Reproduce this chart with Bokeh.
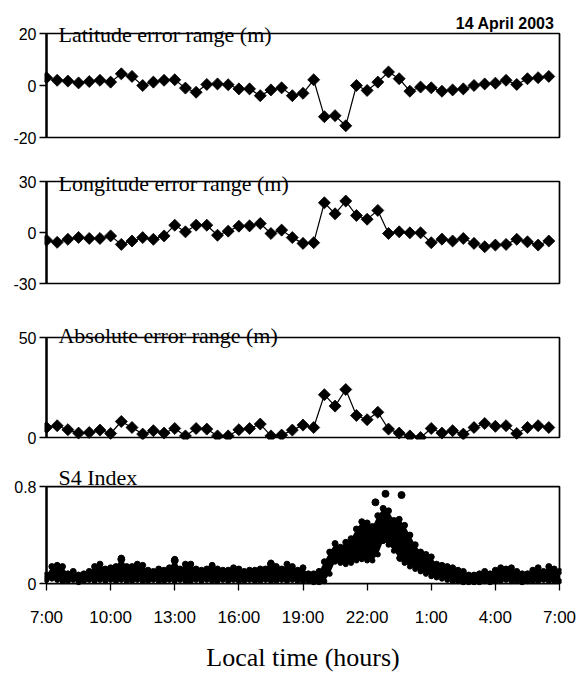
from bokeh.plotting import figure
from bokeh.models import Range1d, FixedTicker, Label
from bokeh.layouts import column
from bokeh.embed import file_html
from bokeh.resources import INLINE

# ---------------- data ----------------
# hours after 07:00 local time (half-hourly fixes)
sample_hours = [0.0, 0.5, 1.0, 1.5, 2.0, 2.5, 3.0, 3.5, 4.0, 4.5, 5.0, 5.5,
                6.0, 6.5, 7.0, 7.5, 8.0, 8.5, 9.0, 9.5, 10.0, 10.5, 11.0, 11.5,
                12.0, 12.5, 13.0, 13.5, 14.0, 14.5, 15.0, 15.5, 16.0, 16.5, 17.0, 17.5,
                18.0, 18.5, 19.0, 19.5, 20.0, 20.5, 21.0, 21.5, 22.0, 22.5, 23.0, 23.5]

latitude_err = [3, 2, 1.7, 1, 1.5, 2, 1.3, 4.5, 3.5, 0, 1.3, 2,
                2.2, -1, -2.6, 0.4, 0.6, 0.3, -1.3, -1.3, -3.9, -1.7, -0.9, -3.9,
                -3, 2.2, -12, -11.6, -15.5, 0, -1.9, 1.3, 5.2, 2.6, -2.2, -0.6,
                -0.9, -2.2, -1.7, -1.3, 0, 0.6, 0.9, 2, 0.4, 2.6, 3, 3.5]

longitude_err = [-4.5, -5.8, -4, -2.9, -3.5, -3.5, -2, -7, -5, -3, -4, -2,
                 4.3, 0.4, 4.3, 4.3, -1.6, 0.8, 3.7, 3.9, 5.3, -0.6, 1.4, -3,
                 -6.4, -6, 17.5, 11, 18.5, 10, 7.8, 13, -0.6, 0.4, -0.2, -0.2,
                 -6, -3.9, -5, -3.5, -6.4, -8.4, -7.4, -7, -4, -5.5, -7.4, -5]

absolute_err = [5, 5.9, 3.9, 2.2, 2.5, 3.7, 2, 8, 5, 1.7, 3.4, 2.2,
                4.5, 0.8, 4.5, 4.2, 0.8, 0.8, 3.9, 4.5, 6.7, 0.8, 1.2, 3.7,
                6.2, 5, 21.4, 15.7, 24, 11, 8.9, 12.6, 4.2, 2.2, 0.8, 0,
                4.5, 2.2, 3.4, 1.7, 5, 7, 5.6, 5.9, 2, 5, 5.9, 5]

# S4 index: dense scatter, read as an upper / lower envelope every 15 min
s4_hours = [0.0, 0.25, 0.5, 0.75, 1.0, 1.25, 1.5, 1.75, 2.0, 2.25, 2.5, 2.75,
            3.0, 3.25, 3.5, 3.75, 4.0, 4.25, 4.5, 4.75, 5.0, 5.25, 5.5, 5.75,
            6.0, 6.25, 6.5, 6.75, 7.0, 7.25, 7.5, 7.75, 8.0, 8.25, 8.5, 8.75,
            9.0, 9.25, 9.5, 9.75, 10.0, 10.25, 10.5, 10.75, 11.0, 11.25, 11.5, 11.75,
            12.0, 12.25, 12.5, 12.75, 13.0, 13.25, 13.5, 13.75, 14.0, 14.25, 14.5, 14.75,
            15.0, 15.25, 15.5, 15.75, 16.0, 16.25, 16.5, 16.75, 17.0, 17.25, 17.5, 17.75,
            18.0, 18.25, 18.5, 18.75, 19.0, 19.25, 19.5, 19.75, 20.0, 20.25, 20.5, 20.75,
            21.0, 21.25, 21.5, 21.75, 22.0, 22.25, 22.5, 22.75, 23.0, 23.25, 23.5, 23.75,
            24.0]
s4_upper = [0.07, 0.14, 0.15, 0.14, 0.08, 0.10, 0.07, 0.08, 0.10, 0.14, 0.16, 0.12,
            0.13, 0.14, 0.21, 0.14, 0.14, 0.16, 0.15, 0.11, 0.10, 0.12, 0.11, 0.13,
            0.20, 0.12, 0.16, 0.16, 0.12, 0.11, 0.12, 0.15, 0.12, 0.11, 0.11, 0.13,
            0.12, 0.10, 0.11, 0.11, 0.12, 0.12, 0.17, 0.14, 0.12, 0.16, 0.14, 0.11,
            0.13, 0.08, 0.08, 0.10, 0.18, 0.26, 0.33, 0.30, 0.34, 0.37, 0.45, 0.51,
            0.50, 0.47, 0.56, 0.62, 0.60, 0.52, 0.53, 0.48, 0.40, 0.32, 0.26, 0.24,
            0.22, 0.16, 0.15, 0.14, 0.13, 0.11, 0.10, 0.07, 0.07, 0.08, 0.10, 0.08,
            0.11, 0.13, 0.12, 0.13, 0.10, 0.08, 0.08, 0.11, 0.13, 0.10, 0.14, 0.12,
            0.10]
s4_lower = [0.03, 0.04, 0.03, 0.02, 0.02, 0.03, 0.01, 0.02, 0.03, 0.02, 0.03, 0.02,
            0.03, 0.02, 0.03, 0.02, 0.02, 0.03, 0.02, 0.02, 0.03, 0.02, 0.02, 0.03,
            0.02, 0.03, 0.02, 0.02, 0.03, 0.02, 0.03, 0.02, 0.02, 0.03, 0.02, 0.03,
            0.02, 0.02, 0.03, 0.02, 0.02, 0.03, 0.02, 0.02, 0.03, 0.02, 0.03, 0.02,
            0.02, 0.02, 0.01, 0.01, 0.02, 0.08, 0.18, 0.17, 0.16, 0.17, 0.19, 0.20,
            0.19, 0.19, 0.24, 0.35, 0.32, 0.27, 0.21, 0.17, 0.14, 0.12, 0.10, 0.08,
            0.06, 0.05, 0.04, 0.03, 0.02, 0.02, 0.01, 0.01, 0.01, 0.01, 0.02, 0.01,
            0.02, 0.02, 0.03, 0.02, 0.02, 0.01, 0.02, 0.02, 0.02, 0.03, 0.02, 0.02,
            0.02]
s4_outlier_hours = [3.5, 6.0, 15.39, 15.86, 16.61, 16.56, 10.5]
s4_outlier_vals = [0.20, 0.19, 0.67, 0.74, 0.73, 0.21, 0.16]

x_tick_hours = [0, 3, 6, 9, 12, 15, 18, 21, 24]
x_tick_labels = ["7:00", "10:00", "13:00", "16:00", "19:00", "22:00", "1:00", "4:00", "7:00"]

date_text = "14 April 2003"
panel_titles = ["Latitude error range (m)", "Longitude error range (m)",
                "Absolute error range (m)", "S4 Index"]
x_axis_title = "Local time (hours)"

# ---------------- figures ----------------
SERIF = "Liberation Serif"
SANS = "Liberation Sans"
BOX_LEFT, BOX_RIGHT = 46, 559          # px of the drawn box
PAD = 2                                # px of frame padding around the box
X_PER_PX = 24.0 / (BOX_RIGHT - BOX_LEFT)


def make_panel(canvas_top, canvas_h, box_top, box_bottom, frame_top, ymin, ymax,
               yticks, with_x=False):
    """box_top/box_bottom/frame_top are page pixels; the frame is a bit larger
    than the box so that text above the box is not clipped."""
    u_per_px = (ymax - ymin) / float(box_bottom - box_top)
    y_lo = ymin - PAD * u_per_px
    y_hi = ymax + (box_top - frame_top) * u_per_px
    frame_bottom = box_bottom + PAD
    p = figure(width=576, height=canvas_h,
               x_range=Range1d(-PAD * X_PER_PX, 24 + PAD * X_PER_PX),
               y_range=Range1d(y_lo, y_hi), output_backend="svg",
               toolbar_location=None,
               min_border_left=BOX_LEFT - PAD, min_border_right=576 - BOX_RIGHT - PAD,
               min_border_top=frame_top - canvas_top,
               min_border_bottom=canvas_top + canvas_h - frame_bottom,
               x_axis_location="below" if with_x else None)
    p.grid.visible = False
    p.outline_line_color = None
    p.background_fill_color = "white"
    p.border_fill_color = "white"
    ya = p.yaxis[0]
    ya.ticker = FixedTicker(ticks=yticks)
    ya.axis_line_color = None
    ya.major_tick_in = PAD
    ya.major_tick_out = 5
    ya.major_tick_line_width = 1.3
    ya.minor_tick_line_color = None
    ya.major_label_standoff = 3
    ya.major_label_text_font = SANS
    ya.major_label_text_font_size = "16px"
    ya.major_label_text_color = "black"
    ya.major_label_overrides = {t: ("%g" % t) for t in yticks}
    # the box around the data area
    p.quad(left=[0], right=[24], bottom=[ymin], top=[ymax], fill_color=None,
           line_color="black", line_width=1.7)
    p.segment(x0=[0], y0=[ymin], x1=[0], y1=[ymax], line_color="black", line_width=2.3)
    return p


def add_title(p, text, yval, yoff, size="22px"):
    p.add_layout(Label(x=0.56, y=yval, text=text, text_font=SERIF,
                       text_font_size=size, text_baseline="alphabetic",
                       text_align="left", y_offset=yoff, text_color="black"))


def add_series(p, xs, ys):
    p.line(xs, ys, line_color="black", line_width=1.2)
    p.scatter(xs, ys, marker="square", angle=0.785398, size=8.5,
              fill_color="black", line_color="black", line_width=0.8)


p1 = make_panel(0, 150, 33, 137, 6, -20, 20, [-20, 0, 20])
add_series(p1, sample_hours, latitude_err)
add_title(p1, panel_titles[0], 20, -1)
p1.add_layout(Label(x=24, y=20, text=date_text, text_font=SANS,
                    text_font_size="16px", text_font_style="bold",
                    text_align="right", text_baseline="alphabetic",
                    x_offset=-5, y_offset=10, text_color="black"))

p2 = make_panel(150, 150, 181, 283, 160, -30, 30, [-30, 0, 30])
add_series(p2, sample_hours, longitude_err)
add_title(p2, panel_titles[1], 30, -2)

p3 = make_panel(300, 150, 337, 437, 312, 0, 50, [0, 50])
add_series(p3, sample_hours, absolute_err)
add_title(p3, panel_titles[2], 50, 2)

p4 = make_panel(450, 224, 487, 587, 456, 0, 0.8, [0, 0.8], with_x=True)
p4.varea(x=s4_hours, y1=s4_lower, y2=s4_upper, fill_color="black")
p4.scatter(s4_hours, s4_upper, size=6, fill_color="black", line_color="black")
p4.scatter(s4_hours, s4_lower, size=5, fill_color="black", line_color="black")
p4.scatter(s4_outlier_hours, s4_outlier_vals, size=7, fill_color="black",
           line_color="black")
add_title(p4, panel_titles[3], 0.8, 9)

xa = p4.xaxis[0]
xa.ticker = FixedTicker(ticks=x_tick_hours)
xa.major_label_overrides = {t: lab for t, lab in zip(x_tick_hours, x_tick_labels)}
xa.axis_line_color = None
xa.major_tick_in = PAD
xa.major_tick_out = 5
xa.major_tick_line_width = 1.3
xa.minor_tick_line_color = None
xa.major_label_standoff = 17
xa.major_label_text_font = SANS
xa.major_label_text_font_size = "17px"
xa.major_label_text_color = "black"
xa.axis_label = x_axis_title
xa.axis_label_text_font = SERIF
xa.axis_label_text_font_size = "26px"
xa.axis_label_text_font_style = "normal"
xa.axis_label_text_color = "black"
xa.axis_label_standoff = 13

layout = column(p1, p2, p3, p4, spacing=0)

open("out.html", "w").write(file_html(layout, INLINE))
